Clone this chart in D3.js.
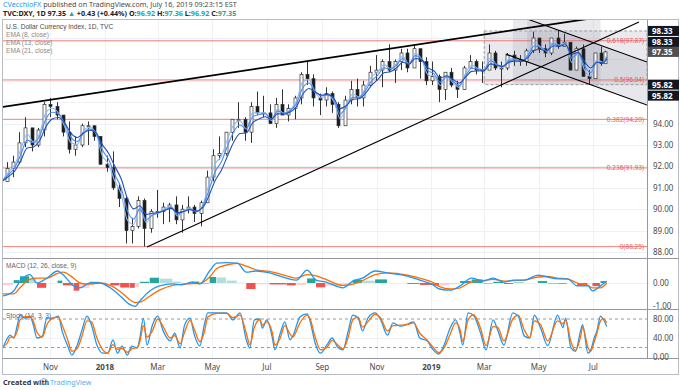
<!DOCTYPE html>
<html>
<head>
<meta charset="utf-8">
<script src="https://cdn.jsdelivr.net/npm/d3@7"></script>
<style>
  body { margin: 0; background: #fff; }
  svg { display: block; font-family: "Noto Sans", "Liberation Sans", sans-serif; }
</style>
</head>
<body>
<script>
// weekly candles (week ending)
const weeks = [
  "2017-09-08","2017-09-15","2017-09-22","2017-09-29","2017-10-06","2017-10-13","2017-10-20","2017-10-27",
  "2017-11-03","2017-11-10","2017-11-17","2017-11-24","2017-12-01","2017-12-08","2017-12-15","2017-12-22","2017-12-29",
  "2018-01-05","2018-01-12","2018-01-19","2018-01-26","2018-02-02","2018-02-09","2018-02-16","2018-02-23",
  "2018-03-02","2018-03-09","2018-03-16","2018-03-23","2018-03-30","2018-04-06","2018-04-13","2018-04-20","2018-04-27",
  "2018-05-04","2018-05-11","2018-05-18","2018-05-25","2018-06-01","2018-06-08","2018-06-15","2018-06-22","2018-06-29",
  "2018-07-06","2018-07-13","2018-07-20","2018-07-27","2018-08-03","2018-08-10","2018-08-17","2018-08-24","2018-08-31",
  "2018-09-07","2018-09-14","2018-09-21","2018-09-28","2018-10-05","2018-10-12","2018-10-19","2018-10-26",
  "2018-11-02","2018-11-09","2018-11-16","2018-11-23","2018-11-30","2018-12-07","2018-12-14","2018-12-21","2018-12-28",
  "2019-01-04","2019-01-11","2019-01-18","2019-01-25","2019-02-01","2019-02-08","2019-02-15","2019-02-22",
  "2019-03-01","2019-03-08","2019-03-15","2019-03-22","2019-03-29","2019-04-05","2019-04-12","2019-04-19","2019-04-26",
  "2019-05-03","2019-05-10","2019-05-17","2019-05-24","2019-05-31","2019-06-07","2019-06-14","2019-06-21","2019-06-28",
  "2019-07-05","2019-07-12","2019-07-16"
];
const highs = [
  92.7,92.2,92.5,93.6,94.3,93.8,93.8,95.0,95.2,95.0,94.4,94.1,93.4,94.0,94.1,93.9,93.4,
  92.5,92.7,91.2,90.6,89.6,90.6,90.5,90.0,90.9,90.3,90.3,90.6,90.2,90.6,90.2,90.4,91.8,
  92.8,93.4,93.6,94.2,95.0,94.3,95.0,95.5,95.3,94.9,95.2,95.6,94.9,95.3,96.4,96.9,96.3,95.4,
  95.7,95.5,95.0,95.3,96.0,96.1,96.0,96.7,97.2,97.0,97.7,97.0,97.5,97.5,97.7,97.5,97.1,
  96.9,96.3,96.4,96.6,96.0,96.7,97.2,97.0,96.9,97.7,97.4,96.9,97.3,97.4,97.2,97.5,98.3,
  98.0,97.7,98.0,98.37,98.2,97.8,97.6,97.7,96.5,97.3,97.6,97.4
];
const lows = [
  91.0,91.3,91.5,92.1,92.9,92.7,92.9,93.4,94.3,94.2,93.4,92.6,92.5,92.9,93.0,93.2,92.1,
  91.75,90.9,90.1,88.4,88.4,89.1,88.25,88.9,89.6,89.3,89.4,89.3,88.9,89.8,89.4,89.2,90.3,
  91.3,92.3,92.5,93.2,93.8,93.2,93.1,94.4,94.3,94.0,93.8,94.4,94.1,94.2,94.9,95.8,94.8,94.4,
  94.8,94.5,93.8,93.9,94.9,94.8,94.8,95.7,96.0,95.7,96.4,95.9,96.5,96.4,96.6,96.1,95.8,
  95.8,95.0,95.1,95.7,95.2,95.6,96.6,96.3,95.9,96.6,96.5,95.7,96.5,96.7,96.7,96.7,97.3,
  97.3,97.1,97.2,97.5,97.6,96.5,96.5,96.2,95.84,96.2,96.7,96.9
];
const closes = [
  91.3,91.9,92.2,93.1,93.8,93.0,93.7,94.9,94.8,94.4,93.6,92.8,93.0,93.9,93.9,93.4,92.1,
  91.95,91.0,90.5,89.0,89.2,90.4,89.1,89.9,89.9,90.1,90.2,89.5,90.0,90.1,89.8,90.3,91.5,
  92.5,92.6,93.6,94.2,94.2,93.6,94.8,94.5,94.5,94.0,94.9,94.4,94.7,95.2,96.3,96.1,95.2,95.1,
  95.4,94.9,93.9,95.1,95.6,95.2,95.8,96.4,96.5,96.9,96.5,96.9,97.3,96.6,97.5,96.9,96.0,
  96.2,95.6,96.4,95.8,95.6,96.6,96.9,96.5,96.5,97.3,96.6,96.6,97.2,97.0,96.9,97.4,98.0,
  97.5,97.3,98.0,97.6,97.8,96.5,97.5,96.2,96.1,97.3,96.8,97.35
];
const firstOpen = 92.0;
const emaPeriods = [8, 13, 21];
const emaColors = ["#8dbaf8", "#4f8be6", "#1f4fb8"];

// fibonacci retracement
const fibLevels = ["0.618", "0.5", "0.382", "0.236", "0"];
const fibPrices = [97.87, 96.04, 94.20, 91.93, 88.25];

// drawings [date, price]
const upperWedge = [["2017-09-09", 94.78], ["2019-07-20", 99.05]];
const lowerWedge = [["2018-02-17", 88.23], ["2019-08-21", 98.75]];
const channelTop = [["2019-04-18", 98.89], ["2019-08-30", 96.88]];
const channelBottom = [["2019-03-25", 97.25], ["2019-08-30", 94.87]];
const boxA = { from: "2019-03-01", to: "2019-08-30", top: 98.33, bottom: 95.82 };
const boxB = { from: "2019-04-02", to: "2019-07-09", top: 98.93, bottom: 95.82 };
const axisMarks = [98.33, 98.33, 95.82, 95.82];
const lastPrice = 97.35;

// MACD (12, 26, close, 9)
const macdDates = [
  "2017-09-09","2017-09-21","2017-09-28","2017-10-09","2017-10-17","2017-10-28","2017-11-09","2017-11-15",
  "2017-11-27","2017-12-04","2017-12-15","2017-12-26","2018-01-07","2018-01-18","2018-01-29","2018-02-04",
  "2018-02-09","2018-02-20","2018-03-03","2018-03-18","2018-03-28","2018-04-08","2018-04-17","2018-04-28",
  "2018-05-06","2018-05-17","2018-05-29","2018-06-08","2018-06-19","2018-07-04","2018-07-23","2018-08-03",
  "2018-08-15","2018-08-25","2018-09-05","2018-09-24","2018-10-05","2018-10-16","2018-10-30","2018-11-13",
  "2018-12-05","2018-12-19","2019-01-03","2019-01-10","2019-01-22","2019-02-02","2019-02-15","2019-02-28",
  "2019-03-11","2019-03-23","2019-04-03","2019-04-15","2019-04-30","2019-05-11","2019-05-22","2019-06-02",
  "2019-06-13","2019-06-25","2019-06-30","2019-07-09","2019-07-16"
];
const macdLine = [
  -0.54,-0.33,0.08,0.35,0.0,0.2,0.5,0.35,-0.12,-0.2,0.0,0.0,-0.2,-0.54,-0.9,-0.97,
  -0.75,-0.33,-0.12,-0.04,-0.08,0.04,-0.04,0.5,0.83,0.85,0.83,0.45,0.5,0.42,0.2,0.12,
  0.54,0.12,0.04,-0.2,0.08,0.2,0.5,0.42,0.29,0.12,-0.08,-0.25,-0.3,-0.12,0.2,0.08,
  0.2,0.04,0.12,0.12,0.33,0.25,0.17,0.17,-0.12,-0.12,-0.33,-0.12,0.08
];
const macdSignal = [
  -0.45,-0.45,-0.2,0.15,0.2,0.2,0.4,0.45,0.2,0.0,-0.05,0.0,-0.1,-0.35,-0.7,-0.82,
  -0.8,-0.55,-0.3,-0.1,-0.06,-0.02,-0.02,0.25,0.6,0.75,0.82,0.7,0.55,0.48,0.3,0.2,
  0.35,0.3,0.15,-0.1,-0.05,0.1,0.35,0.42,0.33,0.2,0.02,-0.15,-0.25,-0.2,0.05,0.1,
  0.15,0.08,0.1,0.12,0.25,0.27,0.2,0.17,0.0,-0.1,-0.2,-0.2,0.0
];

// Stoch (14, 3, 3)
const stochDates = [
  "2017-09-09","2017-09-14","2017-09-17","2017-09-21","2017-09-25","2017-09-28","2017-10-04","2017-10-09",
  "2017-10-13","2017-10-17","2017-10-23","2017-10-28","2017-11-04","2017-11-10","2017-11-14","2017-11-20",
  "2017-11-25","2017-12-01","2017-12-06","2017-12-12","2017-12-17","2017-12-23","2017-12-30","2018-01-04",
  "2018-01-10","2018-01-15","2018-01-20","2018-01-26","2018-01-31","2018-02-06","2018-02-09","2018-02-13",
  "2018-02-17","2018-02-23","2018-03-01","2018-03-07","2018-03-15","2018-03-20","2018-03-26","2018-03-31",
  "2018-04-06","2018-04-11","2018-04-17","2018-04-22","2018-04-26","2018-05-06","2018-05-09","2018-05-17",
  "2018-05-24","2018-06-01","2018-06-08","2018-06-12","2018-06-17","2018-06-23","2018-06-26","2018-07-01",
  "2018-07-07","2018-07-10","2018-07-16","2018-07-21","2018-07-27","2018-07-30","2018-08-07","2018-08-15",
  "2018-08-18","2018-08-24","2018-08-30","2018-09-06","2018-09-12","2018-09-18","2018-09-24","2018-09-30",
  "2018-10-05","2018-10-11","2018-10-16","2018-10-22","2018-10-30","2018-11-05","2018-11-13","2018-11-19",
  "2018-11-27","2018-12-05","2018-12-12","2018-12-19","2018-12-27","2019-01-03","2019-01-09","2019-01-14",
  "2019-01-22","2019-01-28","2019-02-02","2019-02-05","2019-02-11","2019-02-17","2019-02-25","2019-03-03",
  "2019-03-11","2019-03-16","2019-03-23","2019-04-02","2019-04-08","2019-04-15","2019-04-21","2019-04-26",
  "2019-05-03","2019-05-11","2019-05-22","2019-05-28","2019-05-31","2019-06-06","2019-06-11","2019-06-17",
  "2019-06-19","2019-06-25","2019-06-28","2019-07-02","2019-07-05","2019-07-09","2019-07-12","2019-07-16"
];
const stochK = [
  19,40,46,40,67,88,82,86,67,40,44,82,82,86,55,25,
  4,25,55,86,67,25,8,8,36,8,23,4,23,19,40,82,
  25,67,86,55,34,50,19,67,82,46,23,67,93,93,93,93,
  78,93,36,19,78,80,61,78,42,15,50,74,36,44,84,91,
  78,29,8,25,40,21,15,55,88,82,55,82,93,79,46,72,
  65,69,74,40,34,15,6,20,61,78,50,25,93,88,50,15,
  78,57,25,93,86,44,40,88,61,24,88,62,82,19,12,57,
  68,8,14,40,55,86,80,64
];
const stochD = [
  22,30,42,42,55,78,85,85,75,52,42,68,82,84,68,38,
  12,18,42,76,74,40,14,8,26,16,18,10,17,20,32,66,
  42,55,80,64,40,45,28,52,77,58,32,52,84,92,92,92,
  83,88,50,26,62,79,67,74,52,25,40,66,48,42,72,88,
  82,42,15,20,35,26,17,42,78,84,63,74,90,83,55,66,
  67,68,72,50,36,20,9,16,48,72,58,33,78,89,60,24,
  64,63,34,80,88,56,41,76,68,34,76,70,77,32,14,45,
  63,20,12,32,50,76,81,72
];

const tickDates = ["2017-11-01","2018-01-01","2018-03-01","2018-05-01","2018-07-01","2018-09-01",
  "2018-11-01","2019-01-01","2019-03-01","2019-05-01","2019-07-01"];
const tickLabels = ["Nov","2018","Mar","May","Jul","Sep","Nov","2019","Mar","May","Jul"];
const priceTicks = [88, 89, 90, 91, 92, 93, 94, 95, 96, 97, 98];

const W = 680, H = 390;
const left = 3, right = 647;
const main = { top: 20, bottom: 258 };
const macdP = { top: 259, bottom: 309 };
const stochP = { top: 309, bottom: 358 };
const parse = d3.timeParse("%Y-%m-%d");
const tick = "#4a4a4a";

const svg = d3.select("body").append("svg").attr("width", W).attr("height", H);
svg.append("rect").attr("width", W).attr("height", H).attr("fill", "#fff");

const x = d3.scaleTime().domain([parse("2017-09-09"), parse("2019-08-30")]).range([left, right]);
const y = d3.scaleLinear().domain([88, 98]).range([252, 38]);
const yM = d3.scaleLinear().domain([-1, 0]).range([307, 283]);
const yS = d3.scaleLinear().domain([0, 80]).range([357, 319]);

const defs = svg.append("defs");
[["cMain", main], ["cMacd", macdP], ["cStoch", stochP]].forEach(([id, p]) => {
  defs.append("clipPath").attr("id", id).append("rect")
    .attr("x", left).attr("y", p.top).attr("width", right - left).attr("height", p.bottom - p.top);
});

// grid
const grid = svg.append("g").attr("stroke", "#eef1f6").attr("stroke-width", 1);
tickDates.forEach(d => {
  const gx = Math.round(x(parse(d))) + 0.5;
  grid.append("line").attr("x1", gx).attr("x2", gx).attr("y1", main.top).attr("y2", stochP.bottom);
});
priceTicks.forEach(p => {
  const gy = Math.round(y(p)) + 0.5;
  grid.append("line").attr("x1", left).attr("x2", right).attr("y1", gy).attr("y2", gy);
});
[yM(0), yS(40)].forEach(v => grid.append("line").attr("x1", left).attr("x2", right)
  .attr("y1", Math.round(v) + 0.5).attr("y2", Math.round(v) + 0.5));

// ---------- main panel ----------
const gm = svg.append("g").attr("clip-path", "url(#cMain)");

const rectOf = (b) => gm.append("rect")
  .attr("x", x(parse(b.from))).attr("y", y(b.top))
  .attr("width", x(parse(b.to)) - x(parse(b.from))).attr("height", y(b.bottom) - y(b.top));
rectOf(boxA).attr("fill", "rgba(150,152,170,0.2)").attr("stroke", "#8a8a8a")
  .attr("stroke-dasharray", "3,2").attr("stroke-width", 0.8);
rectOf(boxB).attr("fill", "rgba(150,152,170,0.2)");

// channel fill between the two descending lines
const chFrom = parse(channelTop[0][0]), chTo = parse(channelTop[1][0]);
const lerp = (ln, t) => {
  const a = parse(ln[0][0]), b = parse(ln[1][0]);
  const k = (t - a) / (b - a);
  return ln[0][1] + k * (ln[1][1] - ln[0][1]);
};
gm.append("path")
  .attr("fill", "rgba(150,152,170,0.22)")
  .attr("d", d3.line()([
    [x(chFrom), y(channelTop[0][1])], [x(chTo), y(channelTop[1][1])],
    [x(chTo), y(lerp(channelBottom, chTo))], [x(chFrom), y(lerp(channelBottom, chFrom))]
  ]) + "Z");

// fib lines
fibPrices.forEach((p, i) => {
  gm.append("line").attr("x1", left).attr("x2", right)
    .attr("y1", y(p)).attr("y2", y(p))
    .attr("stroke", "rgba(242,80,80,0.75)").attr("stroke-width", 1);
  svg.append("text").attr("x", right - 3).attr("y", y(p) + 2.3)
    .attr("text-anchor", "end").attr("font-size", 6.5).attr("fill", "rgba(235,70,70,0.9)")
    .text(`${fibLevels[i]}(${p.toFixed(2)})`);
});

// candles
const candles = weeks.map((w, i) => ({
  end: parse(w),
  date: d3.timeDay.offset(parse(w), -2),
  open: i ? closes[i - 1] : firstOpen,
  high: highs[i], low: lows[i], close: closes[i]
}));
const cg = gm.append("g");
candles.forEach(c => {
  const cx = Math.round(x(c.date)) + 0.5;
  const up = c.close >= c.open;
  cg.append("line").attr("x1", cx).attr("x2", cx).attr("y1", y(c.high)).attr("y2", y(c.low))
    .attr("stroke", "#333").attr("stroke-width", 1);
  cg.append("rect").attr("x", cx - 1.5).attr("width", 3)
    .attr("y", y(Math.max(c.open, c.close)))
    .attr("height", Math.max(1, Math.abs(y(c.open) - y(c.close))))
    .attr("fill", up ? "#fff" : "#1a1a1a").attr("stroke", "#333").attr("stroke-width", 0.7);
});

// EMAs (daily periods turned into weekly smoothing), plotted at each week's close
emaPeriods.forEach((n, k) => {
  const alpha = 1 - Math.pow(1 - 2 / (n + 1), 5);
  let e = closes[0];
  const pts = candles.map((c, i) => {
    e = i ? alpha * c.close + (1 - alpha) * e : c.close;
    return [x(c.end), y(e)];
  });
  gm.append("path").attr("fill", "none").attr("stroke", emaColors[k]).attr("stroke-width", 1.1)
    .attr("d", d3.line().curve(d3.curveMonotoneX)(pts));
});

// trend lines
const trend = (ln, w) => gm.append("line")
  .attr("x1", x(parse(ln[0][0]))).attr("y1", y(ln[0][1]))
  .attr("x2", x(parse(ln[1][0]))).attr("y2", y(ln[1][1]))
  .attr("stroke", "#000").attr("stroke-width", w);
trend(upperWedge, 1.8);
trend(lowerWedge, 1.2);
trend(channelTop, 1.1);
trend(channelBottom, 1.1);

// ---------- MACD ----------
const gmacd = svg.append("g").attr("clip-path", "url(#cMacd)");
const md = macdDates.map((d, i) => ({ date: parse(d), m: macdLine[i], s: macdSignal[i], h: macdLine[i] - macdSignal[i] }));
md.forEach((d, i) => {
  if (i === md.length - 1) return;
  const x0 = x(d.date), x1 = x(md[i + 1].date);
  const prev = i ? md[i - 1].h : d.h;
  const col = d.h >= 0 ? (d.h >= prev ? "#26a69a" : "#b2dfdb") : (d.h < prev ? "#ef5350" : "#ffcdd2");
  gmacd.append("rect").attr("x", x0).attr("width", Math.max(1, x1 - x0 - 0.6))
    .attr("y", Math.min(yM(0), yM(d.h))).attr("height", Math.abs(yM(d.h) - yM(0)))
    .attr("fill", col);
});
gmacd.append("path").datum(md).attr("fill", "none").attr("stroke", "#ff6d00").attr("stroke-width", 1.3)
  .attr("d", d3.line().curve(d3.curveMonotoneX).x(d => x(d.date)).y(d => yM(d.s)));
gmacd.append("path").datum(md).attr("fill", "none").attr("stroke", "#2196f3").attr("stroke-width", 1.3)
  .attr("d", d3.line().curve(d3.curveMonotoneX).x(d => x(d.date)).y(d => yM(d.m)));

// ---------- Stoch ----------
const gst = svg.append("g").attr("clip-path", "url(#cStoch)");
[80, 20].forEach(v => gst.append("line").attr("x1", left).attr("x2", right)
  .attr("y1", yS(v)).attr("y2", yS(v)).attr("stroke", "#999").attr("stroke-dasharray", "3,3"));
const sd = stochDates.map((d, i) => ({ date: parse(d), k: stochK[i], d: stochD[i] }));
gst.append("path").datum(sd).attr("fill", "none").attr("stroke", "#2196f3").attr("stroke-width", 1.3)
  .attr("d", d3.line().curve(d3.curveMonotoneX).x(d => x(d.date)).y(d => yS(d.k)));
gst.append("path").datum(sd).attr("fill", "none").attr("stroke", "#ff6d00").attr("stroke-width", 1.3)
  .attr("d", d3.line().curve(d3.curveMonotoneX).x(d => x(d.date)).y(d => yS(d.d)));

// ---------- frame & separators ----------
const fr = svg.append("g").attr("stroke", "#b8bcc6").attr("stroke-width", 1).attr("fill", "none");
fr.append("rect").attr("x", 2.5).attr("y", 19.5).attr("width", 676).attr("height", 355);
fr.append("line").attr("x1", right + 0.5).attr("x2", right + 0.5).attr("y1", 20).attr("y2", stochP.bottom)
  .attr("stroke", "#9598a1");
[main.bottom, macdP.bottom, stochP.bottom].forEach(v =>
  fr.append("line").attr("x1", 2.5).attr("x2", 679).attr("y1", v + 0.5).attr("y2", v + 0.5).attr("stroke", "#9598a1"));

// ---------- right axis ----------
const markRows = [];
const seen = {};
axisMarks.forEach(v => {
  const n = seen[v] = (seen[v] || 0) + 1;
  markRows.push({ v, cy: y(v) + (n - 1) * 11, fill: "#131722" });
});
markRows.push({ v: lastPrice, cy: y(lastPrice), fill: "#505050" });

const ax = svg.append("g").attr("font-size", 8).attr("fill", tick);
priceTicks.forEach(p => {
  if (markRows.some(r => Math.abs(r.cy - y(p)) < 8)) return;
  ax.append("text").attr("x", 653).attr("y", y(p) + 3).text(p.toFixed(2));
});
ax.append("text").attr("x", 653).attr("y", yM(0) + 3).text("0.00");
ax.append("text").attr("x", 653).attr("y", yM(-1) + 2).text("-1.00");
[80, 40, 0].forEach(v => ax.append("text").attr("x", 653).attr("y", yS(v) + 3).text(v.toFixed(2)));

markRows.forEach(r => {
  svg.append("rect").attr("x", 648).attr("y", r.cy - 5).attr("width", 31).attr("height", 10).attr("fill", r.fill);
  svg.append("text").attr("x", 652).attr("y", r.cy + 3).attr("font-size", 8).attr("fill", "#fff")
    .attr("font-weight", "bold").text(r.v.toFixed(2));
});

// ---------- time axis ----------
tickDates.forEach((d, i) => {
  svg.append("text").attr("x", x(parse(d))).attr("y", 370).attr("text-anchor", "middle")
    .attr("font-size", 8).attr("fill", tick)
    .attr("font-weight", /^\d/.test(tickLabels[i]) ? "bold" : "normal")
    .text(tickLabels[i]);
});

// ---------- legends ----------
const lg = svg.append("g").attr("font-size", 6.6).attr("font-family", "'Liberation Sans', sans-serif");
lg.append("text").attr("x", 6).attr("y", 28.5).attr("fill", "#4a4a4a").text("U.S. Dollar Currency Index, 1D, TVC");
["EMA (8, close)", "EMA (13, close)", "EMA (21, close)"].forEach((t, i) =>
  lg.append("text").attr("x", 6).attr("y", 36.5 + i * 8).attr("fill", "#8a8a8a").text(t));
lg.append("text").attr("x", 6).attr("y", 268).attr("fill", "#666").text("MACD (12, 26, close, 9)");
lg.append("text").attr("x", 6).attr("y", 318).attr("fill", "#666").text("Stoch (14, 3, 3)");

// ---------- header ----------
const h1 = svg.append("text").attr("x", 3).attr("y", 7).attr("font-size", 7.2).attr("fill", "#4a4a4a");
h1.append("tspan").attr("fill", "#2196f3").text("CVecchioFX");
h1.append("tspan").text(" published on TradingView.com, July 16, 2019 09:23:15 EST");
const h2 = svg.append("text").attr("x", 3).attr("y", 16).attr("font-size", 7.2).attr("fill", "#222")
  .attr("font-weight", "bold");
h2.append("tspan").text("TVC:DXY, 1D 97.35 ");
h2.append("tspan").attr("fill", "#26a69a").text("▲");
h2.append("tspan").text(" +0.43 (+0.44%) O:");
h2.append("tspan").attr("fill", "#26a69a").text("96.92");
h2.append("tspan").text(" H:");
h2.append("tspan").attr("fill", "#26a69a").text("97.36");
h2.append("tspan").text(" L:");
h2.append("tspan").attr("fill", "#26a69a").text("96.92");
h2.append("tspan").text(" C:");
h2.append("tspan").attr("fill", "#26a69a").text("97.35");

// ---------- footer ----------
svg.append("text").attr("x", 3).attr("y", 385).attr("font-size", 7.2).attr("font-weight", "bold")
  .attr("fill", "#333").text("Created with");
svg.append("path").attr("d", "M38,384 q0,-4 3.5,-4 q1,-2.5 3.5,-1 q2.5,0 2.5,2.5 q1.5,0.5 1.2,2.5 Z")
  .attr("fill", "none").attr("stroke", "#5aa9f0").attr("stroke-width", 0.9);
svg.append("text").attr("x", 50).attr("y", 385).attr("font-size", 7.2).attr("fill", "#5aa9f0").text("TradingView");
</script>
</body>
</html>
